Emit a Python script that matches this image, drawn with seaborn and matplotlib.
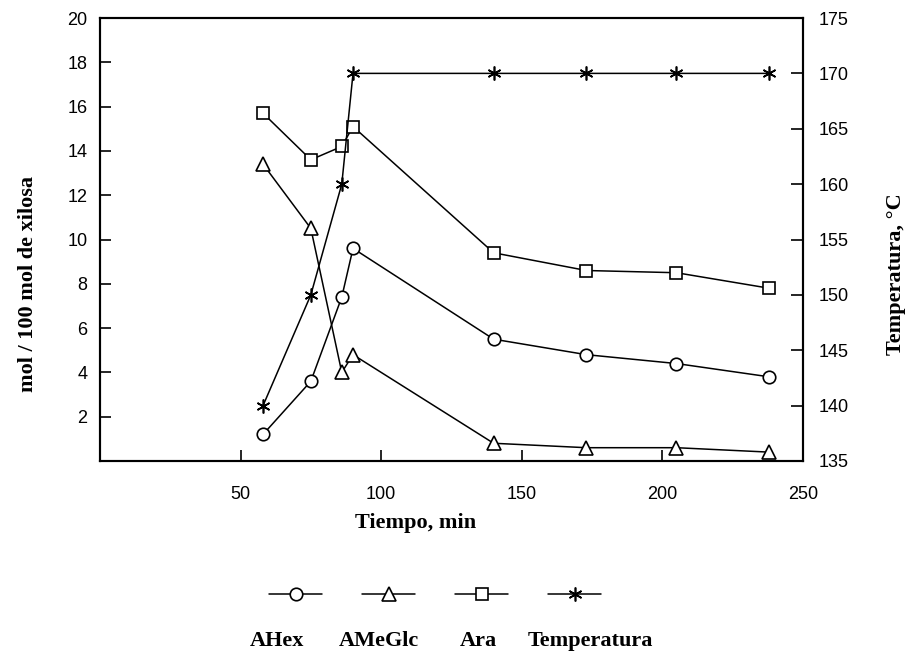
import matplotlib
matplotlib.use('Agg')
import matplotlib.pyplot as plt
import seaborn as sns

# datos
tiempo = [58, 75, 86, 90, 140, 173, 205, 238]
ahex = [1.2, 3.6, 7.4, 9.6, 5.5, 4.8, 4.4, 3.8]
ameglc = [13.4, 10.5, 4.0, 4.8, 0.8, 0.6, 0.6, 0.4]
ara = [15.7, 13.6, 14.2, 15.1, 9.4, 8.6, 8.5, 7.8]
temperatura = [140, 150, 160, 170, 170, 170, 170, 170]

series = ['AHex', 'AMeGlc', 'Ara', 'Temperatura']
x_ticks = [50, 100, 150, 200, 250]
y_ticks = [2, 4, 6, 8, 10, 12, 14, 16, 18, 20]
t_ticks = [135, 140, 145, 150, 155, 160, 165, 170, 175]

sns.set_style('ticks')
plt.rcParams['font.family'] = ['Liberation Sans', 'DejaVu Sans']
plt.rcParams.update({'text.color': 'black', 'axes.labelcolor': 'black',
                     'xtick.color': 'black', 'ytick.color': 'black'})

serif = dict(family='Liberation Serif', fontweight='bold', fontsize=16)
estilo = dict(color='black', lw=1.1, markerfacecolor='white',
              markeredgecolor='black', markeredgewidth=1.2)

fig = plt.figure(figsize=(9.12, 6.55), dpi=100)
ax = fig.add_axes([0.1096, 0.2962, 0.7708, 0.6763])
ax2 = ax.twinx()

sns.lineplot(x=tiempo, y=ahex, ax=ax, marker='o', markersize=9, **estilo)
sns.lineplot(x=tiempo, y=ameglc, ax=ax, marker='^', markersize=10, **estilo)
sns.lineplot(x=tiempo, y=ara, ax=ax, marker='s', markersize=8.5, **estilo)
sns.lineplot(x=tiempo, y=temperatura, ax=ax2, marker=(6, 2, 0), markersize=10, **estilo)

ax.set_xlim(0, 250)
ax.set_ylim(0, 20)
ax2.set_ylim(135, 175)
ax.set_xticks(x_ticks)
ax.set_yticks(y_ticks)
ax2.set_yticks(t_ticks)

ax.tick_params(axis='both', direction='in', length=8, width=1.2, labelsize=13)
ax.tick_params(axis='y', pad=9)
ax.tick_params(axis='x', pad=18)
ax2.tick_params(axis='y', direction='in', length=9, width=1.2, labelsize=13, pad=11)

for a in (ax, ax2):
    for s in a.spines.values():
        s.set_linewidth(1.5)
        s.set_color('black')

ax.set_xlabel('Tiempo, min', **serif)
ax.xaxis.set_label_coords(0.4495, -0.117)
ax.set_ylabel('mol / 100 mol de xilosa', **serif)
ax.yaxis.set_label_coords(-0.088, 0.40)
ax2.set_ylabel('Temperatura, °C', **serif)
ax2.yaxis.set_label_coords(1.118, 0.422)

# leyenda: marcadores arriba, nombres abajo
handles = ax.get_lines() + ax2.get_lines()
fig.legend(handles, [''] * 4, ncol=4, loc='center', bbox_to_anchor=(0.477, 0.0916),
           frameon=False, fontsize=12, handlelength=3.18, handletextpad=0,
           columnspacing=2.4)
for nombre, xc in zip(series, [277, 379, 478, 590]):
    fig.text(xc / 912, 0.013, nombre, ha='center', va='baseline', **serif)

fig.savefig('out.png', dpi=100)
